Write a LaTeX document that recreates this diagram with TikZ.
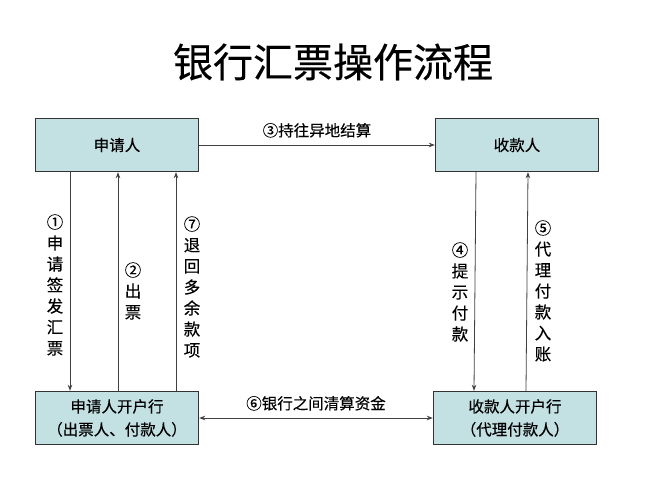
\documentclass[tikz,border=0pt]{standalone}
\usepackage{fontspec}
\setmainfont{Noto Sans CJK SC}[FakeBold=0.3]
\usetikzlibrary{arrows.meta, positioning, calc}

\begin{document}
\begin{tikzpicture}[x=1pt, y=1pt,
  party/.style={draw=black!80, line width=1.4pt, fill=boxfill, rectangle, minimum width=163pt, minimum height=53pt, align=center, font=\fontsize{15.5}{23}\selectfont},
  flow/.style={draw=black!75, line width=0.8pt, -{Stealth[length=6pt, width=4.5pt]}},
  lbl/.style={font=\fontsize{15.5}{21}\selectfont, align=center, inner sep=1pt},
  vlbl/.style={font=\fontsize{16.5}{21}\selectfont, align=center, inner sep=1pt}
]
\definecolor{boxfill}{HTML}{C3E0E3}
\useasboundingbox (0,0) rectangle (667,500);

\node[font=\fontsize{40}{44}\selectfont] (titel) at (333,438) {银行汇票操作流程};

\node[party] (sqr) at (117,355) {申请人};
\node[party] (skr) at (517,355) {收款人};
\node[party] (sqh) at (117,82) {申请人开户行\\（出票人、付款人）};
\node[party] (skh) at (515,82) {收款人开户行\\（代理付款人）};

% Arrows - horizontal
\draw[flow] (sqr.east) -- node[lbl, above=6pt]{③持往异地结算} (skr.west);
\draw[flow, {Stealth[length=6pt, width=4.5pt]}-{Stealth[length=6pt, width=4.5pt]}] (sqh.east) -- node[lbl, above=6pt]{⑥银行之间清算资金} (skh.west);

% Arrows - left side
\draw[flow] ([xshift=-47pt]sqr.south) -- ([xshift=-47pt]sqh.north);
\draw[flow] ([xshift=1pt]sqh.north) -- ([xshift=1pt]sqr.south);
\draw[flow] ([xshift=59pt]sqh.north) -- ([xshift=59pt]sqr.south);

% Arrows - right side
\draw[flow] ([xshift=-41pt]skr.south) -- ([xshift=-41pt]skh.north);
\draw[flow] ([xshift=11pt]skh.north) -- ([xshift=11pt]skr.south);

% Labels
\node[vlbl] (l1) at (55,215) {①\\申\\请\\签\\发\\汇\\票};
\node[vlbl] (l2) at (133,209) {②\\出\\票};
\node[vlbl] (l7) at (192,213) {⑦\\退\\回\\多\\余\\款\\项};
\node[vlbl] (l4) at (460,208) {④\\提\\示\\付\\款};
\node[vlbl] (l5) at (543,209) {⑤\\代\\理\\付\\款\\入\\账};

\end{tikzpicture}
\end{document}
